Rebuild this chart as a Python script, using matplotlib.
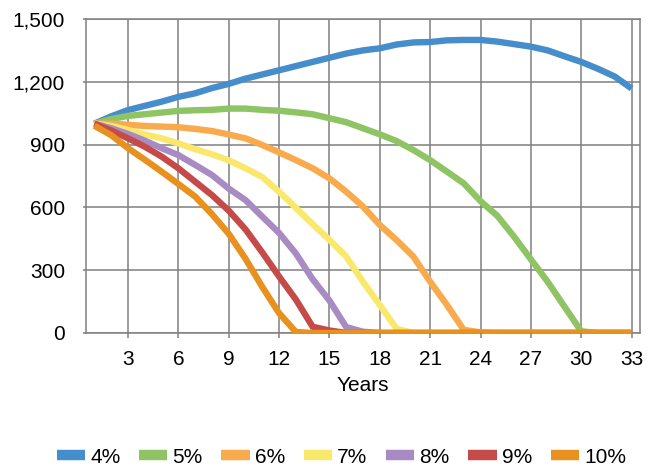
import matplotlib
matplotlib.use("Agg")
import matplotlib.pyplot as plt
from matplotlib.ticker import FuncFormatter, MultipleLocator

plt.rcParams['font.family'] = ['Liberation Sans', 'DejaVu Sans']

# years 1..33, portfolio value per withdrawal rate
years = list(range(1, 34))
labels = ['4%', '5%', '6%', '7%', '8%', '9%', '10%']
colors = ['#468DCB', '#8EC463', '#F9AA4C', '#F9E86C', '#A98BC3', '#C54B48', '#E8911F']

r4 = [1000, 1035, 1065, 1085, 1105, 1128, 1145, 1170, 1190, 1215, 1235, 1255, 1275,
      1295, 1315, 1335, 1350, 1360, 1378, 1388, 1390, 1398, 1400, 1400, 1392, 1380,
      1368, 1350, 1322, 1295, 1262, 1225, 1168]
r5 = [1000, 1022, 1037, 1045, 1053, 1061, 1064, 1066, 1072, 1072, 1066, 1062, 1054,
      1045, 1026, 1007, 978, 949, 917, 874, 826, 771, 715, 630, 560, 460, 352, 245,
      126, 8, 0, 0, 0]
r6 = [1000, 1000, 995, 989, 986, 983, 975, 965, 948, 930, 898, 863, 826, 787, 739,
      675, 604, 516, 444, 365, 245, 134, 15, 3, 0, 0, 0, 0, 0, 0, 0, 0, 0]
r7 = [1000, 989, 970, 949, 930, 906, 878, 854, 825, 787, 745, 675, 598, 520, 445,
      365, 245, 134, 20, 0, 0, 0, 0, 0, 0, 0, 0, 0, 0, 0, 0, 0, 0]
r8 = [1000, 978, 951, 919, 883, 850, 803, 755, 690, 635, 556, 478, 380, 257, 155,
      28, 6, 0, 0, 0, 0, 0, 0, 0, 0, 0, 0, 0, 0, 0, 0, 0, 0]
r9 = [1000, 967, 930, 890, 843, 787, 723, 659, 585, 495, 385, 270, 160, 30, 12,
      0, 0, 0, 0, 0, 0, 0, 0, 0, 0, 0, 0, 0, 0, 0, 0, 0, 0]
r10 = [990, 945, 883, 828, 771, 712, 652, 568, 474, 355, 220, 95, 5, 0, 0, 0, 0,
       0, 0, 0, 0, 0, 0, 0, 0, 0, 0, 0, 0, 0, 0, 0, 0]
series = [r4, r5, r6, r7, r8, r9, r10]

fig = plt.figure(figsize=(6.54, 4.66), dpi=100)
ax = fig.add_axes([86 / 654, 1 - 333 / 466, 554 / 654, 314 / 466])

for vals, lab, col in zip(series, labels, colors):
    ax.plot(years, vals, color=col, lw=4.6, label=lab, solid_joinstyle='miter',
            solid_capstyle='butt', zorder=3)

ax.set_xlim(0.5, 33.5)
ax.set_ylim(0, 1500)
ax.xaxis.set_major_locator(MultipleLocator(3))
ax.yaxis.set_major_locator(MultipleLocator(300))
ax.yaxis.set_major_formatter(FuncFormatter(lambda v, p: f'{v:,.0f}'))

grey = '#808080'
ax.grid(True, color=grey, lw=1.1, zorder=0)
ax.set_axisbelow(True)
for s in ax.spines.values():
    s.set_color(grey)
    s.set_linewidth(1.1)

ax.tick_params(axis='y', length=2.2, width=1.1, color=grey, pad=13, labelsize=15)
ax.tick_params(axis='x', length=3.6, width=1.1, color=grey, pad=8.5, labelsize=15)
ax.set_xlabel('Years', fontsize=15, labelpad=5)

leg = fig.legend(loc='center', bbox_to_anchor=(0.522, 0.019), ncol=7, frameon=False,
                 fontsize=15, handlelength=1.35, handletextpad=0.25, columnspacing=0.9)
for h in leg.legend_handles:
    h.set_linewidth(7.5)

fig.savefig('out.png', dpi=100)
